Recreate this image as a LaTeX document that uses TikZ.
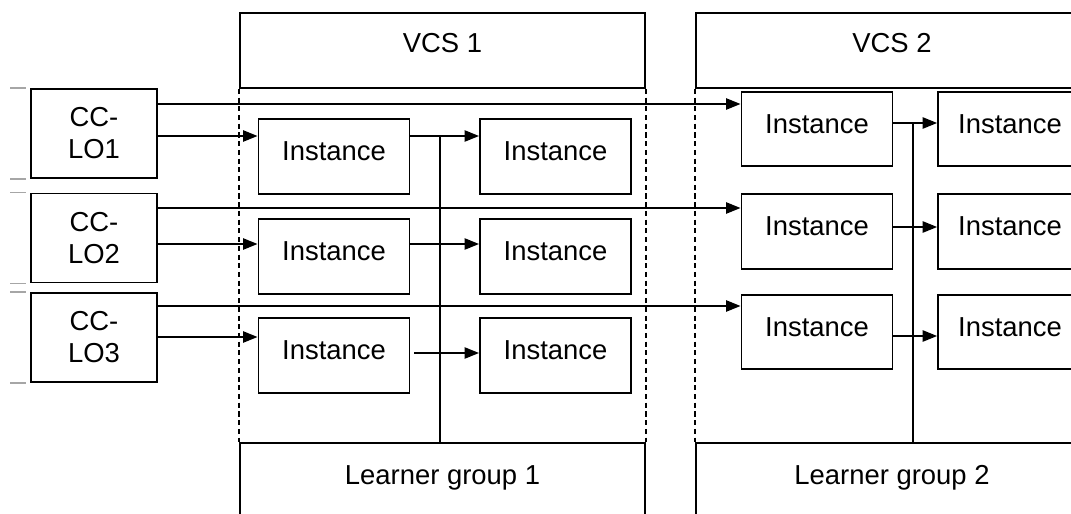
\documentclass[tikz,border=0pt]{standalone}
\usepackage{fontspec}
\setmainfont{Liberation Sans}
\usepackage{tikz}
\usetikzlibrary{arrows.meta,positioning,calc}
\tikzset{>={Triangle[length=3.6mm,width=2.8mm]}}

\begin{document}
\begin{tikzpicture}[x=0.025cm, y=-0.025cm,
                          box/.style={draw, line width=1.2pt, inner sep=0pt, font=\fontsize{19.5}{22.8}\selectfont},
                          lobox/.style={box, minimum width=3.15cm, minimum height=2.225cm, align=center},
                          inst/.style={box, minimum width=3.78cm, minimum height=1.86cm, text depth=0.25cm},
                          hdr/.style={box, minimum height=1.875cm, text depth=0.375cm},
                          grp/.style={box, minimum height=1.875cm, text depth=0.275cm},
                          conn/.style={line width=1.2pt, ->},
                          bus/.style={line width=1.2pt},
                          bound/.style={line width=0.9pt, dash pattern=on 3.6pt off 2.6pt},
                          tickmark/.style={line width=1pt, gray!70},
                         ]

\useasboundingbox (0,0) rectangle (1071,513);
\clip (0,0) rectangle (1071,513);

% learning objects
\node[lobox] (lo1) at (94,133.5) {CC-\\LO1};
\node[lobox] (lo2) at (94,238)   {CC-\\LO2};
\node[lobox] (lo3) at (94,337.5) {CC-\\LO3};

\draw[tickmark] (10,0 |- lo1.north) -- (26,0 |- lo1.north);
\draw[tickmark] (10,0 |- lo1.south) -- (26,0 |- lo1.south);
\draw[tickmark] (10,0 |- lo2.north) -- (26,0 |- lo2.north);
\draw[tickmark] (10,0 |- lo2.south) -- (26,0 |- lo2.south);
\draw[tickmark] (10,0 |- lo3.north) -- (26,0 |- lo3.north);
\draw[tickmark] (10,0 |- lo3.south) -- (26,0 |- lo3.south);

% VCS 1
\node[hdr, minimum width=10.125cm] (vcs1) at (442.5,50.5) {VCS 1};
\node[grp, minimum width=10.125cm] (lg1) at (442.5,480.5) {Learner group 1};
\draw[bound] (vcs1.south west) -- (lg1.north west);
\draw[bound] (vcs1.south east) -- (lg1.north east);

\node[inst] (a1) at (334,156.5) {Instance};
\node[inst] (a2) at (334,256.5) {Instance};
\node[inst] (a3) at (334,355.5) {Instance};
\node[inst] (b1) at (555.5,156.5) {Instance};
\node[inst] (b2) at (555.5,256.5) {Instance};
\node[inst] (b3) at (555.5,355.5) {Instance};

% VCS 2
\node[hdr, minimum width=9.8cm] (vcs2) at (892,50.5) {VCS 2};
\node[grp, minimum width=9.8cm] (lg2) at (892,480.5) {Learner group 2};
\draw[bound] (vcs2.south west) -- (lg2.north west);

\node[inst] (c1) at (817,129) {Instance};
\node[inst] (c2) at (817,231.5) {Instance};
\node[inst] (c3) at (817,332) {Instance};
\node[inst, minimum width=3.6cm] (d1) at (1010,129) {Instance};
\node[inst, minimum width=3.6cm] (d2) at (1010,231.5) {Instance};
\node[inst, minimum width=3.6cm] (d3) at (1010,332) {Instance};

% links from the learning objects
\draw[conn] (lo1.east |- 0,104) -- (c1.west |- 0,104);
\draw[conn] (lo1.east |- 0,136) -- (a1.west |- 0,136);
\draw[conn] (lo2.east |- 0,208) -- (c2.west |- 0,208);
\draw[conn] (lo2.east |- 0,244) -- (a2.west |- 0,244);
\draw[conn] (lo3.east |- 0,306) -- (c3.west |- 0,306);
\draw[conn] (lo3.east |- 0,337) -- (a3.west |- 0,337);

% inside the VCSs
\draw[conn] (a1.east |- 0,136) -- (b1.west |- 0,136);
\draw[conn] (a2.east |- 0,244) -- (b2.west |- 0,244);
\draw[conn] ($(a3.east |- 0,353)+(4,0)$) -- (b3.west |- 0,353);
\draw[conn] (c1.east |- 0,123) -- (d1.west |- 0,123);
\draw[conn] (c2.east |- 0,227) -- (d2.west |- 0,227);
\draw[conn] (c3.east |- 0,336) -- (d3.west |- 0,336);

\coordinate (j1) at (440,136);
\coordinate (j2) at (913,123);
\draw[bus] (j1) -- (j1 |- lg1.north);
\draw[bus] (j2) -- (j2 |- lg2.north);

\end{tikzpicture}
\end{document}
